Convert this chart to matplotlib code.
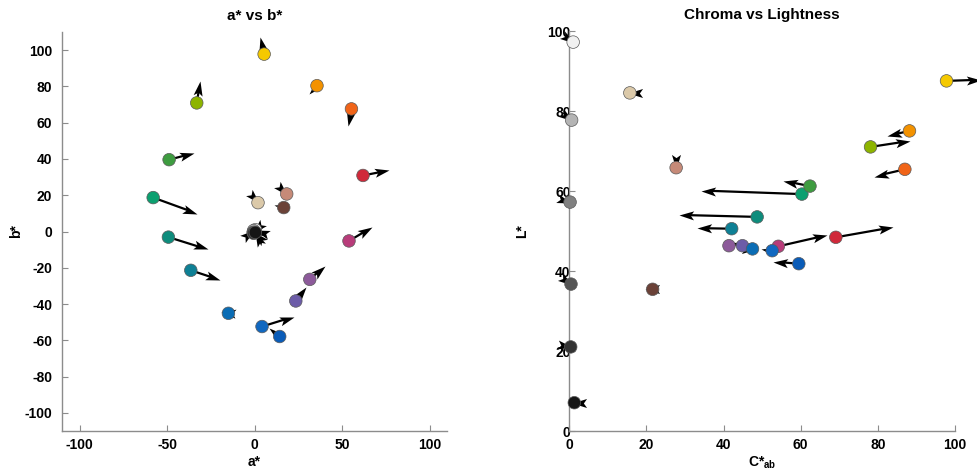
import numpy as np
import matplotlib
matplotlib.use('Agg')
import matplotlib.pyplot as plt
from matplotlib.path import Path
from matplotlib.markers import MarkerStyle
from matplotlib.transforms import Affine2D

plt.rcParams['font.family'] = ['Liberation Sans', 'DejaVu Sans']
plt.rcParams['font.weight'] = 'bold'
plt.rcParams['axes.unicode_minus'] = False
plt.rcParams['mathtext.fontset'] = 'custom'
plt.rcParams['mathtext.rm'] = 'Liberation Sans:bold'
plt.rcParams['mathtext.bf'] = 'Liberation Sans:bold'
plt.rcParams['mathtext.default'] = 'bf'

# ── data ─────────────────────────────────────────────────────────────────────
names = ['yellow', 'orange', 'orange red', 'red', 'magenta', 'purple', 'violet',
         'blue 1', 'blue 2', 'blue 3', 'cyan', 'teal', 'bluish green', 'green',
         'yellow green', 'tan', 'light skin', 'dark skin',
         'white', 'light gray', 'gray', 'dark gray', 'darker gray', 'black']
colors = ['#F5C900', '#F39200', '#F06418', '#D0293A', '#B83C7A', '#8C5A9A', '#6C5CA8',
          '#0A5CB8', '#1168C0', '#0B6DB5', '#0E8095', '#0E8C7C', '#0CA070', '#3E9C40',
          '#8DB400', '#DBC9A9', '#C68A78', '#6B4238',
          '#F0F0F0', '#B4B4B4', '#808080', '#555555', '#333333', '#151515']

# a*, b* and the arrow components in the a*-b* plane
a_star = [5.5, 35.7, 55.4, 62.0, 54.0, 31.6, 23.6,
          14.4, 4.3, -14.9, -36.4, -49.2, -57.9, -48.8,
          -33.0, 2.0, 18.4, 16.7,
          0.5, -0.5, 0.0, -0.8, -0.5, 0.5]
b_star = [97.8, 80.4, 67.6, 30.9, -5.2, -26.4, -38.3,
          -57.9, -52.4, -45.1, -21.4, -3.1, 18.7, 39.6,
          70.9, 15.9, 20.7, 13.2,
          1.0, 0.5, -0.5, -0.5, -1.0, -0.5]
d_a = [-2.3, -4.5, -1.9, 14.9, 13.4, 8.7, 6.1,
       -6.1, 18.3, -4.5, 16.9, 22.5, 25.1, 14.1,
       2.1, 0.3, 0.3, -5.7,
       -0.3, 0.4, -0.3, -0.3, -2.5, -0.2]
d_b = [9.5, -4.6, -9.2, 2.8, 7.7, 7.3, 7.5,
       4.9, 5.5, 0.5, -5.4, -6.8, -8.8, 3.6,
       12.2, -0.3, -0.3, 1.3,
       0.1, 0.3, 0.3, -0.3, -0.5, 0.4]

# chroma, lightness and the arrow components in the C*-L* plane
chroma = [97.8, 88.2, 87.0, 69.1, 54.2, 41.4, 44.9,
          59.5, 52.6, 47.5, 42.1, 48.7, 60.3, 62.4,
          78.1, 15.7, 27.7, 21.6,
          1.0, 0.6, 0.2, 0.44, 0.36, 1.3]
lightness = [87.6, 75.1, 65.5, 48.5, 46.25, 46.4, 46.4,
             41.9, 45.15, 45.6, 50.65, 53.6, 59.3, 61.3,
             71.1, 84.6, 65.9, 35.5,
             97.3, 77.8, 57.3, 36.8, 21.1, 7.15]
d_c = [8.9, -5.9, -8.0, 14.7, 12.7, 2.5, -2.0,
       -6.6, -3.0, 1.0, -8.9, -20.3, -26.2, -7.1,
       10.2, -0.5, 0.0, -2.0,
       0.3, 0.3, 0.3, 0.3, 0.3, -0.5]
d_l = [0.3, -1.3, -1.8, 2.5, 2.8, 1.0, 0.3,
       0.5, 0.5, 0.0, 0.15, 0.5, 0.9, 1.35,
       1.5, 0.0, -0.4, 0.0,
       -0.2, -0.2, -0.1, -0.2, -0.05, 0.0]

# ── style ────────────────────────────────────────────────────────────────────
SPINE_COL = '#8C8C8C'
EDGE_COL = '#5A5A5A'
HEAD_MS = 21.0        # marker size of the arrow head (head length = HEAD_MS / 2 pt)
SHAFT_LW = 1.6
DOT_S = 82

HEAD_PATH = Path([(0, 0), (-1, 0.31), (-0.78, 0), (-1, -0.31), (0, 0)],
                 [Path.MOVETO, Path.LINETO, Path.LINETO, Path.LINETO, Path.CLOSEPOLY])


def style_ax(ax, title, xlabel, ylabel, ypad, ylabelpad):
    ax.set_title(title, fontsize=11, fontweight='bold', pad=9)
    ax.set_xlabel(xlabel, fontsize=10, fontweight='bold', labelpad=2)
    ax.set_ylabel(ylabel, fontsize=10, fontweight='bold', labelpad=ylabelpad)
    for side in ['top', 'right']:
        ax.spines[side].set_visible(False)
    for side in ['left', 'bottom']:
        ax.spines[side].set_color(SPINE_COL)
        ax.spines[side].set_linewidth(1.0)
    ax.tick_params(direction='in', length=4, width=0.8, color=SPINE_COL,
                   labelsize=10, labelcolor='black')
    ax.tick_params(axis='x', pad=5)
    ax.tick_params(axis='y', pad=ypad)
    for lab in ax.get_xticklabels() + ax.get_yticklabels():
        lab.set_fontweight('bold')


def draw_arrows(ax, x, y, dx, dy):
    fig = ax.figure
    head_px = HEAD_MS / 2 * fig.dpi / 72
    for x0, y0, u, v in zip(x, y, dx, dy):
        p0 = ax.transData.transform((x0, y0))
        p1 = ax.transData.transform((x0 + u, y0 + v))
        vec = p1 - p0
        length = np.hypot(*vec)
        ang = np.degrees(np.arctan2(vec[1], vec[0]))
        if length > head_px * 0.6:
            pe = p1 - vec / length * head_px * 0.6
            xe, ye = ax.transData.inverted().transform(pe)
            ax.plot([x0, xe], [y0, ye], color='black', lw=SHAFT_LW,
                    solid_capstyle='butt', clip_on=False, zorder=3)
        m = MarkerStyle(HEAD_PATH, transform=Affine2D().rotate_deg(ang))
        ax.plot([x0 + u], [y0 + v], linestyle='none', marker=m, markersize=HEAD_MS,
                color='black', markeredgewidth=0, clip_on=False, zorder=3)


fig = plt.figure(figsize=(9.77, 4.76), dpi=100)
fig.patch.set_facecolor('white')

ax1 = fig.add_axes([62 / 977, 1 - 431 / 476, 385 / 977, 399 / 476])
ax2 = fig.add_axes([569.3 / 977, 1 - 431.3 / 476, 385.7 / 977, 400 / 476])

# left: a* vs b*
ax1.set_xlim(-110, 110)
ax1.set_ylim(-110, 110)
ax1.set_xticks([-100, -50, 0, 50, 100])
ax1.set_yticks(np.arange(-100, 101, 20))
style_ax(ax1, 'a* vs b*', 'a*', 'b*', ypad=7, ylabelpad=1)
draw_arrows(ax1, a_star, b_star, d_a, d_b)
ax1.scatter(a_star, b_star, s=DOT_S, c=colors, edgecolors=EDGE_COL,
            linewidths=0.5, zorder=4, clip_on=False)

# right: chroma vs lightness
ax2.set_xlim(0, 100)
ax2.set_ylim(0, 100)
ax2.set_xticks(np.arange(0, 101, 20))
ax2.set_yticks(np.arange(0, 101, 20))
style_ax(ax2, 'Chroma vs Lightness', 'C*$_{ab}$', 'L*', ypad=-1, ylabelpad=13)
draw_arrows(ax2, chroma, lightness, d_c, d_l)
ax2.scatter(chroma, lightness, s=DOT_S, c=colors, edgecolors=EDGE_COL,
            linewidths=0.5, zorder=4, clip_on=False)

fig.savefig('out.png', dpi=100, facecolor='white')
